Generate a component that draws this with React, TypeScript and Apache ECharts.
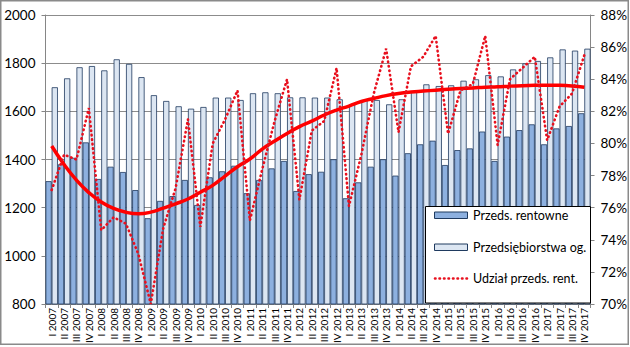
import React, { useEffect, useRef } from "react";
import * as echarts from "echarts";

const categories = [
  "I 2007", "II 2007", "III 2007", "IV 2007",
  "I 2008", "II 2008", "III 2008", "IV 2008",
  "I 2009", "II 2009", "III 2009", "IV 2009",
  "I 2010", "II 2010", "III 2010", "IV 2010",
  "I 2011", "II 2011", "III 2011", "IV 2011",
  "I 2012", "II 2012", "III 2012", "IV 2012",
  "I 2013", "II 2013", "III 2013", "IV 2013",
  "I 2014", "II 2014", "III 2014", "IV 2014",
  "I 2015", "II 2015", "III 2015", "IV 2015",
  "I 2016", "II 2016", "III 2016", "IV 2016",
  "I 2017", "II 2017", "III 2017", "IV 2017",
];

const rentowne = [
  1310, 1380, 1407, 1471, 1319, 1370, 1348, 1273, 1156, 1228, 1248, 1315,
  1211, 1326, 1351, 1374, 1260, 1315, 1363, 1394, 1269, 1339, 1349, 1401,
  1239, 1305, 1370, 1401, 1333, 1426, 1463, 1478, 1377, 1439, 1446, 1516,
  1394, 1495, 1522, 1546, 1463, 1529, 1539, 1592,
];

const ogolem = [
  1700, 1737, 1783, 1788, 1770, 1816, 1797, 1742, 1667, 1643, 1621, 1611,
  1618, 1657, 1657, 1647, 1675, 1679, 1675, 1658, 1658, 1657, 1657, 1650,
  1629, 1647, 1647, 1629, 1650, 1680, 1712, 1705, 1708, 1727, 1733, 1750,
  1745, 1774, 1799, 1809, 1824, 1857, 1852, 1860,
];

const udzial = [
  77.1, 79.3, 79.0, 82.2, 74.6, 75.4, 75.0, 73.1, 70.0, 74.7, 77.2, 81.5,
  74.8, 80.0, 81.5, 83.3, 75.2, 78.4, 81.4, 84.0, 76.5, 80.8, 81.4, 84.7,
  76.1, 79.3, 83.1, 85.9, 80.7, 84.8, 85.4, 86.7, 80.6, 83.3, 83.7, 86.7,
  79.9, 84.0, 84.7, 85.4, 80.2, 82.3, 83.1, 85.5,
];

const trend = [
  79.84, 78.69, 77.72, 76.94, 76.35, 75.95, 75.71, 75.62, 75.72, 75.97, 76.24, 76.54,
  76.96, 77.39, 77.97, 78.55, 79.03, 79.65, 80.15, 80.62, 81.05, 81.39, 81.77, 82.08,
  82.33, 82.61, 82.8, 82.98, 83.11, 83.2, 83.26, 83.32, 83.38, 83.42, 83.46, 83.5,
  83.53, 83.57, 83.6, 83.62, 83.63, 83.62, 83.58, 83.5,
];

const legendNames = ["Przeds. rentowne", "Przedsiębiorstwa og.", "Udział przeds. rent."];

const leftTicks = { min: 800, max: 2000, interval: 200 };
const rightTicks = { min: 70, max: 88, interval: 2 };

const FONT = "Lato, 'Liberation Sans', sans-serif";
const DARK = "#8DB0DF";
const LIGHT = "#DCE6F2";
const BORDER = "#1F3A5F";
const AXIS = "#868686";
const RED = "#E8101E";

export default function App() {
  const ref = useRef<HTMLDivElement>(null);

  useEffect(() => {
    if (!ref.current) return;
    const chart = echarts.init(ref.current, null, { renderer: "svg" });

    const legendX = 434;
    const legendRows = [215, 247, 278.5];
    const textStyle = (text: string) => ({
      text,
      fill: "#000",
      fontSize: 12.5,
      fontFamily: FONT,
      verticalAlign: "middle",
      align: "left",
    });

    chart.setOption({
      animation: false,
      backgroundColor: "#ffffff",
      textStyle: { fontFamily: FONT },
      grid: { left: 45.5, right: 39, top: 15, bottom: 43, containLabel: false },
      graphic: [
        {
          type: "rect",
          z: 10,
          shape: { x: 425.5, y: 206.5, width: 165, height: 96.5 },
          style: { fill: "#ffffff", stroke: "#000000", lineWidth: 1 },
        },
        {
          type: "rect",
          z: 11,
          shape: { x: legendX + 0.5, y: legendRows[0] - 3, width: 33, height: 6.5 },
          style: { fill: DARK, stroke: BORDER, lineWidth: 1 },
        },
        {
          type: "rect",
          z: 11,
          shape: { x: legendX + 0.5, y: legendRows[1] - 3, width: 33, height: 6.5 },
          style: { fill: LIGHT, stroke: BORDER, lineWidth: 1 },
        },
        {
          type: "line",
          z: 11,
          shape: { x1: legendX + 1, y1: legendRows[2], x2: legendX + 34, y2: legendRows[2] },
          style: { stroke: RED, lineWidth: 2.6, lineDash: [0.5, 4], lineCap: "round" },
        },
        { type: "text", z: 11, x: 473, y: legendRows[0], style: textStyle(legendNames[0]) },
        { type: "text", z: 11, x: 473, y: legendRows[1], style: textStyle(legendNames[1]) },
        { type: "text", z: 11, x: 473, y: legendRows[2], style: textStyle(legendNames[2]) },
        {
          type: "rect",
          z: 30,
          shape: { x: 0.75, y: 0.75, width: 627.5, height: 343.5 },
          style: { fill: "none", stroke: "#8a8a8a", lineWidth: 1.5 },
        },
      ],
      xAxis: {
        type: "category",
        data: categories,
        boundaryGap: true,
        axisLine: { show: true, lineStyle: { color: AXIS, width: 1 } },
        axisTick: { show: true, interval: 0, length: 4, alignWithLabel: false, lineStyle: { color: AXIS } },
        axisLabel: { interval: 0, rotate: 90, fontSize: 10, color: "#000", fontFamily: FONT, margin: 4 },
        splitLine: { show: false },
      },
      yAxis: [
        {
          type: "value",
          min: leftTicks.min,
          max: leftTicks.max,
          interval: leftTicks.interval,
          axisLine: { show: true, lineStyle: { color: AXIS } },
          axisTick: { show: true, length: 4, lineStyle: { color: AXIS } },
          axisLabel: {
            fontSize: 13.5,
            color: "#000",
            fontFamily: FONT,
            margin: 10,
            formatter: (v: number) => String(v),
          },
          splitLine: { show: true, lineStyle: { color: "#8c8c8c", width: 1 } },
        },
        {
          type: "value",
          min: rightTicks.min,
          max: rightTicks.max,
          interval: rightTicks.interval,
          position: "right",
          axisLine: { show: true, lineStyle: { color: AXIS } },
          axisTick: { show: true, length: 4, lineStyle: { color: AXIS } },
          axisLabel: { fontSize: 13.5, color: "#000", fontFamily: FONT, margin: 10, formatter: "{value}%" },
          splitLine: { show: false },
        },
      ],
      series: [
        {
          name: legendNames[0],
          type: "bar",
          data: rentowne,
          barGap: "0%",
          barCategoryGap: "0%",
          itemStyle: { color: DARK, borderColor: BORDER, borderWidth: 0.8 },
          z: 2,
        },
        {
          name: legendNames[1],
          type: "bar",
          data: ogolem,
          barGap: "0%",
          barCategoryGap: "0%",
          itemStyle: { color: LIGHT, borderColor: BORDER, borderWidth: 0.8 },
          z: 2,
        },
        {
          name: "trend",
          type: "line",
          yAxisIndex: 1,
          data: trend,
          smooth: true,
          symbol: "none",
          lineStyle: { color: "#FF0000", width: 3.5 },
          z: 4,
        },
        {
          name: legendNames[2],
          type: "line",
          yAxisIndex: 1,
          data: udzial,
          symbol: "none",
          lineStyle: { color: RED, width: 2.6, type: [0.5, 4], cap: "round" },
          itemStyle: { color: RED },
          z: 5,
        },
      ],
    });
    return () => chart.dispose();
  }, []);

  return (
    <div
      ref={ref}
      style={{ position: "absolute", left: 0, top: 0, width: 630, height: 347 }}
    />
  );
}
